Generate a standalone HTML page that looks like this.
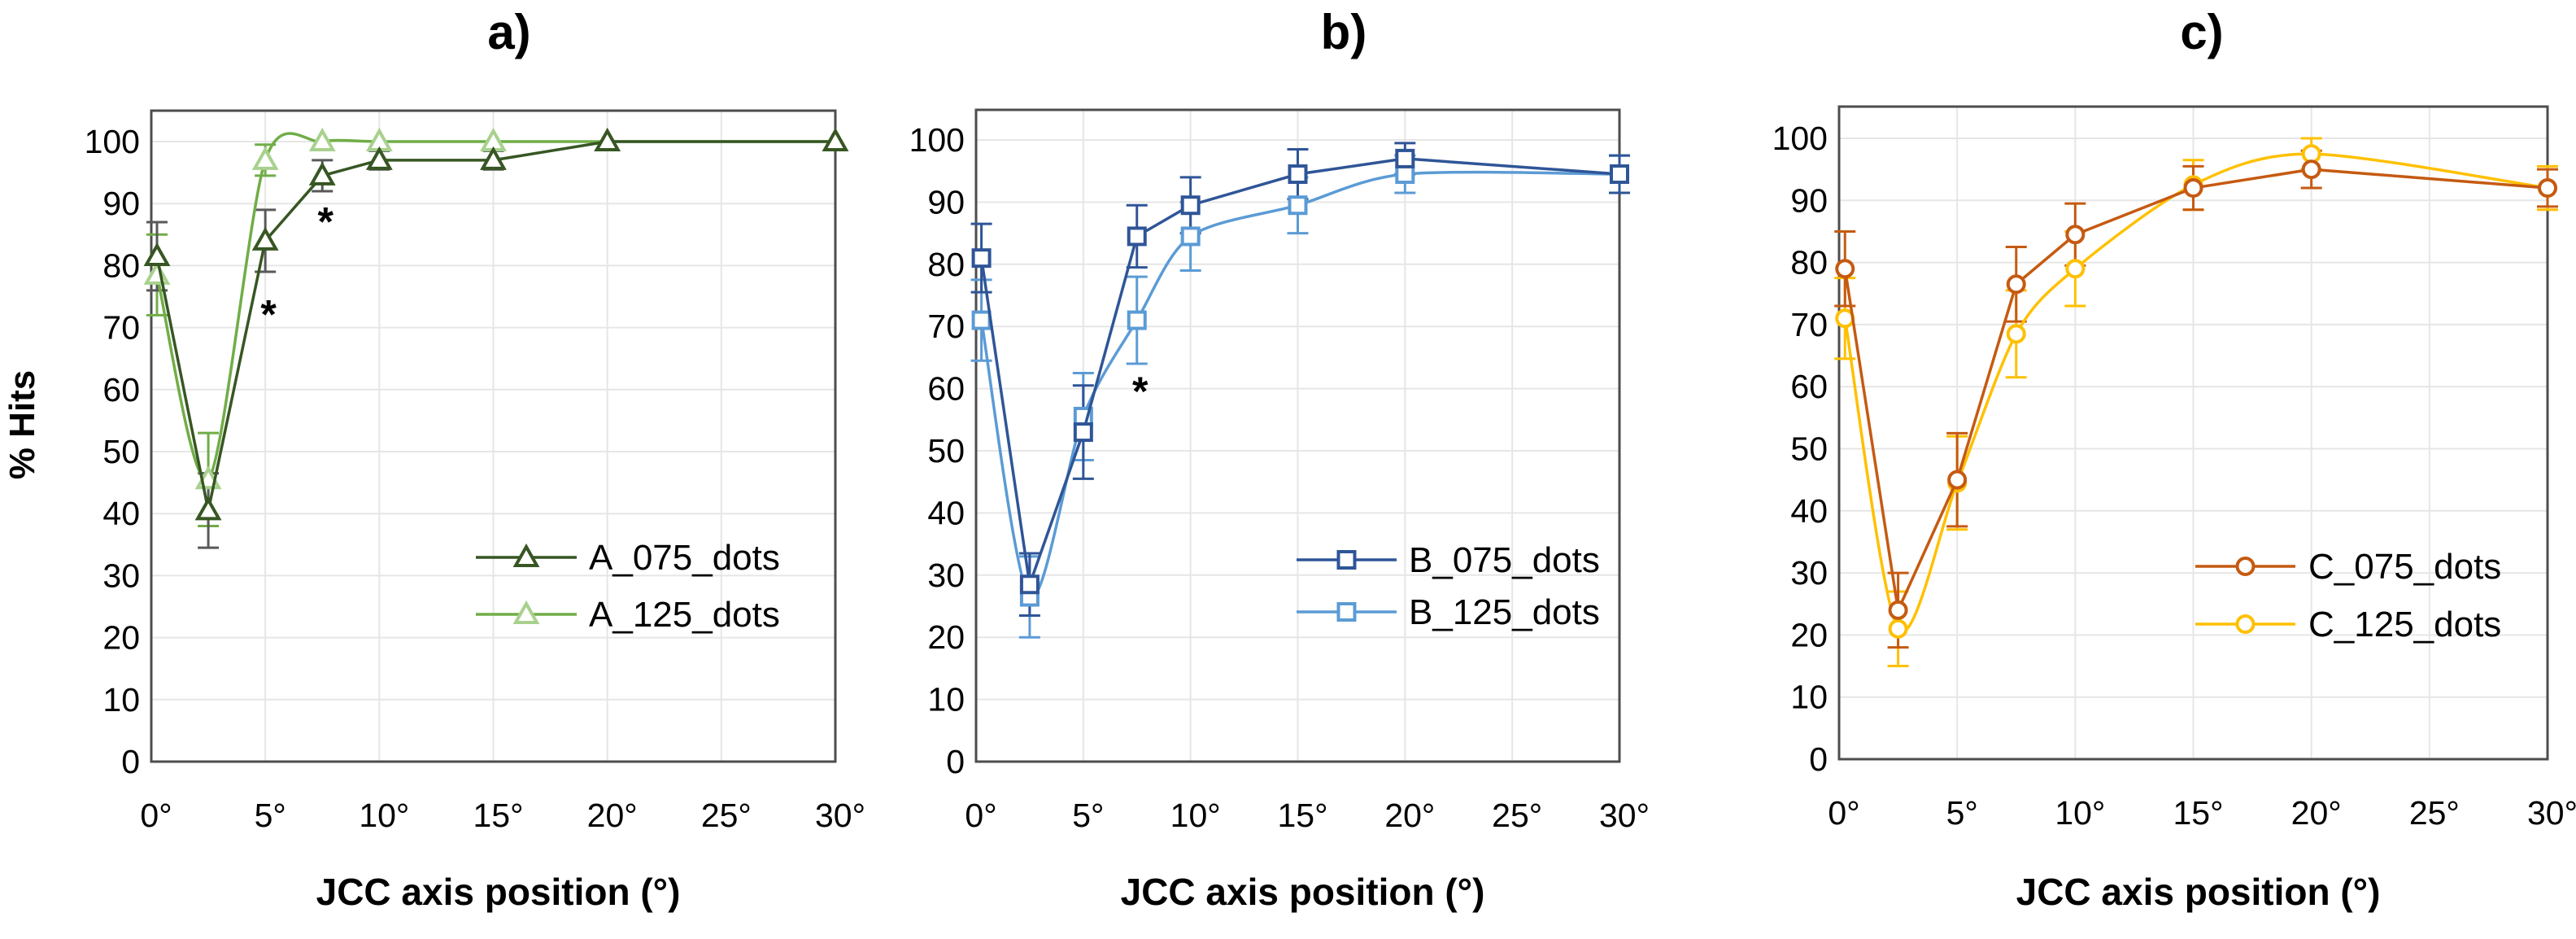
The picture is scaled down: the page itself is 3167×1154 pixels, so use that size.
<!DOCTYPE html>
<html><head><meta charset="utf-8"><style>
html,body{margin:0;padding:0;background:#fff;}
svg{display:block;font-family:"Liberation Sans",sans-serif;}
</style></head><body>
<svg id="fig" width="3167" height="1154" viewBox="0 0 3167 1154"></svg>
<script>
const xCats = [0.25, 2.5, 5, 7.5, 10, 15, 20, 30];
const xTickVals = [0, 5, 10, 15, 20, 25, 30];
const xTickLabels = ["0°","5°","10°","15°","20°","25°","30°"];
const yTicks = [0,10,20,30,40,50,60,70,80,90,100];

const a075 = [81.5, 40.5, 84, 94.5, 97, 97, 100, 100];
const a075err = [5.5, 6, 5, 2.5, 1.5, 1.5, 0, 0];
const a125 = [78.5, 45.5, 97, 100, 100, 100, 100, 100];
const a125err = [6.5, 7.5, 2.5, 0, 0, 0, 0, 0];
const b075 = [81, 28.5, 53, 84.5, 89.5, 94.5, 97, 94.5];
const b075err = [5.5, 5, 7.5, 5, 4.5, 4, 2.5, 3];
const b125 = [71, 26.5, 55.5, 71, 84.5, 89.5, 94.5, 94.5];
const b125err = [6.5, 6.5, 7, 7, 5.5, 4.5, 3, 3];
const c075 = [79, 24, 45, 76.5, 84.5, 92, 95, 92];
const c075err = [6, 6, 7.5, 6, 5, 3.5, 3, 3];
const c125 = [71, 21, 44.5, 68.5, 79, 92.5, 97.5, 92];
const c125err = [6.5, 6, 7.5, 7, 6, 4, 2.5, 3.5];

const NS="http://www.w3.org/2000/svg";
const svg=document.getElementById('fig');
function mk(tag,attrs,parent){const e=document.createElementNS(NS,tag);for(const k in attrs)e.setAttribute(k,attrs[k]);(parent||svg).appendChild(e);return e;}

const panels=[
 {id:'a',title:'a)',tx:626,L:186,R:1027,T:136,B:936,y100:174,
  series:[
   {name:'A_075_dots',vals:a075,err:a075err,line:'#375623',mk:'#375623',errc:'#595959',smooth:false,shape:'tri'},
   {name:'A_125_dots',vals:a125,err:a125err,line:'#70ad47',mk:'#a9d18e',errc:'#70ad47',smooth:true,shape:'tri'}],
  leg:{x1:585,x2:709,y:[685,755],tx:724},
  stars:[[5,73],[7.5,88]], ylabel:true},
 {id:'b',title:'b)',tx:1652,L:1200,R:1991,T:135,B:936,y100:172,
  series:[
   {name:'B_075_dots',vals:b075,err:b075err,line:'#2f5597',mk:'#2f5597',errc:'#2f5597',smooth:false,shape:'sq'},
   {name:'B_125_dots',vals:b125,err:b125err,line:'#5b9bd5',mk:'#5b9bd5',errc:'#5b9bd5',smooth:true,shape:'sq'}],
  leg:{x1:1594,x2:1717,y:[688,752],tx:1732},
  stars:[[7.5,60.5]], ylabel:false},
 {id:'c',title:'c)',tx:2707,L:2261,R:3132,T:131,B:933,y100:170,
  series:[
   {name:'C_075_dots',vals:c075,err:c075err,line:'#c55a11',mk:'#c55a11',errc:'#c55a11',smooth:false,shape:'circ'},
   {name:'C_125_dots',vals:c125,err:c125err,line:'#ffc000',mk:'#ffc000',errc:'#ffc000',smooth:true,shape:'circ'}],
  leg:{x1:2699,x2:2822,y:[696,767],tx:2838},
  stars:[], ylabel:false}
];

function marker(g,shape,x,y,col){
  if(shape==='tri') mk('polygon',{points:`${x},${y-13} ${x-13},${y+10} ${x+13},${y+10}`,fill:'#fff',stroke:col,'stroke-width':4},g);
  else if(shape==='sq') mk('rect',{x:x-10,y:y-10,width:20,height:20,fill:'#fff',stroke:col,'stroke-width':4},g);
  else mk('circle',{cx:x,cy:y,r:10,fill:'#fff',stroke:col,'stroke-width':4},g);
}
function smoothPath(pts){
  let d=`M${pts[0][0]},${pts[0][1]}`;
  for(let i=0;i<pts.length-1;i++){
    const p0=pts[i-1]||pts[i],p1=pts[i],p2=pts[i+1],p3=pts[i+2]||p2;
    const t=7;
    const c1=[p1[0]+(p2[0]-p0[0])/t,p1[1]+(p2[1]-p0[1])/t];
    const c2=[p2[0]-(p3[0]-p1[0])/t,p2[1]-(p3[1]-p1[1])/t];
    d+=` C${c1[0]},${c1[1]} ${c2[0]},${c2[1]} ${p2[0]},${p2[1]}`;
  }
  return d;
}

panels.forEach(p=>{
  const g=mk('g',{});
  
  
  const xs=v=>p.L+(v/30)*(p.R-p.L);
  const ys=v=>p.B-(v/100)*(p.B-p.y100);
  const t=mk('text',{x:p.tx,y:60,'font-size':60,'font-weight':'bold','text-anchor':'middle',fill:'#000'},g);
  t.textContent=p.title;
  
  
  yTicks.forEach(v=>{
    const l=mk('line',{x1:p.L,x2:p.R,y1:ys(v),y2:ys(v),stroke:'#e6e6e6','stroke-width':2},g);
    
    
    const tl=mk('text',{x:p.L-14,y:ys(v)+14,'font-size':41,'text-anchor':'end',fill:'#000'},g);
    tl.textContent=v;
    
    
  });
  xTickVals.forEach((v,i)=>{
    const l=mk('line',{x1:xs(v),x2:xs(v),y1:p.T,y2:p.B,stroke:'#e6e6e6','stroke-width':2},g);
    
    
    const tl=mk('text',{x:xs(v)+6,y:p.B+80,'font-size':41,'text-anchor':'middle',fill:'#000'},g);
    tl.textContent=xTickLabels[i];
    
    
  });
  const box=mk('rect',{x:p.L,y:p.T,width:p.R-p.L,height:p.B-p.T,fill:'none',stroke:'#4d4d4d','stroke-width':3},g);
  
  
  const xt=mk('text',{x:(p.L+p.R)/2+6,y:1112,'font-size':46,'font-weight':'bold','text-anchor':'middle',fill:'#000'},g);
  xt.textContent='JCC axis position (°)';
  
  
  if(p.ylabel){
    const yt=mk('text',{x:0,y:0,'font-size':44,'font-weight':'bold','text-anchor':'middle',fill:'#000',transform:`translate(42,522) rotate(-90)`},g);
    yt.textContent='% Hits';
    
    
  }
  p.series.slice().reverse().forEach(s=>{
    s.vals.forEach((v,i)=>{
      if(!s.err[i])return;
      const x=xs(xCats[i]);
      const eg=mk('g',{stroke:s.errc,'stroke-width':3},g);
      
      
      mk('line',{x1:x,x2:x,y1:ys(v-s.err[i]),y2:ys(v+s.err[i])},eg);
      mk('line',{x1:x-13,x2:x+13,y1:ys(v-s.err[i]),y2:ys(v-s.err[i])},eg);
      mk('line',{x1:x-13,x2:x+13,y1:ys(v+s.err[i]),y2:ys(v+s.err[i])},eg);
    });
  });
  p.series.slice().reverse().forEach(s=>{
    const pts=s.vals.map((v,i)=>[xs(xCats[i]),ys(v)]);
    const d=s.smooth?smoothPath(pts):'M'+pts.map(q=>q.join(',')).join(' L');
    const path=mk('path',{d:d,fill:'none',stroke:s.line,'stroke-width':3.5},g);
    
    
    const mg=mk('g',{},g);
    
    
    pts.forEach(q=>marker(mg,s.shape,q[0],q[1],s.mk));
  });
  p.stars.forEach(st=>{
    const tx=mk('text',{x:xs(st[0])+4,y:ys(st[1])+24,'font-size':50,'font-weight':'bold','text-anchor':'middle',fill:'#000'},g);
    tx.textContent='*';
    
    
  });
  p.series.forEach((s,i)=>{
    const lg=mk('g',{},g);
    
    
    const y=p.leg.y[i];
    mk('line',{x1:p.leg.x1,x2:p.leg.x2,y1:y,y2:y,stroke:s.line,'stroke-width':3.5},lg);
    marker(lg,s.shape,(p.leg.x1+p.leg.x2)/2,y,s.mk);
    const tt=mk('text',{x:p.leg.tx,y:y+15,'font-size':44,fill:'#000'},lg);
    tt.textContent=s.name;
  });
});
</script>
</body></html>
